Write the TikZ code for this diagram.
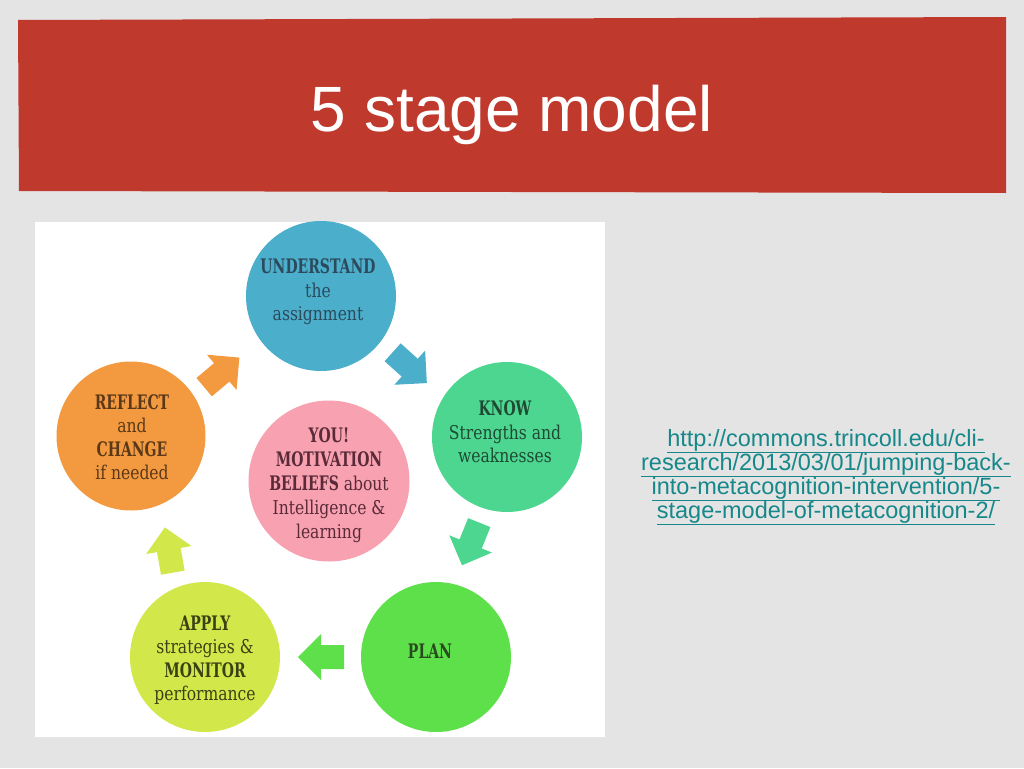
\documentclass[tikz,border=0pt]{standalone}
\usepackage{fontspec}
\setmainfont{Liberation Sans}
\newfontfamily\slab[FakeStretch=0.82]{DejaVu Serif}
\newfontfamily\slabh[FakeStretch=0.7]{DejaVu Serif}
\definecolor{bgc}{HTML}{E4E4E4}
\definecolor{bannerc}{HTML}{C0392D}
\definecolor{bluec}{HTML}{4BAECB}
\definecolor{knowc}{HTML}{4DD690}
\definecolor{planc}{HTML}{5EE04A}
\definecolor{applyc}{HTML}{D2E84A}
\definecolor{reflc}{HTML}{F39A40}
\definecolor{youc}{HTML}{F7A1B1}
\definecolor{urlc}{HTML}{17888A}
\definecolor{tblue}{HTML}{2C4A5C}
\definecolor{tknow}{HTML}{1E4A34}
\definecolor{tplan}{HTML}{294A1E}
\definecolor{tapply}{HTML}{3A4215}
\definecolor{trefl}{HTML}{5A3818}
\definecolor{tyou}{HTML}{5A2A38}
\newcommand\blockarrow[3]{%
  \fill[#3, shift={#1}, rotate=#2] (-22,-12) -- (1,-12) -- (1,-23) -- (24,0) -- (1,23) -- (1,12) -- (-22,12) -- cycle;}
\tikzset{
  stage/.style={circle, inner sep=0pt, minimum size=150pt},
  stagetext/.style={align=center, inner sep=0pt, font=\slab\fontsize{19}{23.5}\selectfont},
  urlline/.style={text=urlc, font=\fontsize{23.5}{24}\selectfont, inner sep=0pt, anchor=base},
}
\newcommand\hd[1]{{\slabh\bfseries\fontsize{20}{23.5}\selectfont #1}}
\begin{document}
\begin{tikzpicture}[x=1pt,y=-1pt]
\useasboundingbox (0,0) rectangle (1024,768);
\fill[bgc] (0,0) rectangle (1024,768);
% banner
\fill[bannerc] (18,20) -- (1006,17) -- (1006,193) -- (19,191) -- cycle;
\node[text=white, font=\fontsize{64}{70}\selectfont, anchor=base] (title) at (512,131) {5 stage model};
% image panel
\fill[white] (35,222) rectangle (605,737);
% circles
\node[stage, fill=bluec] (understand) at (321,296) {};
\node[stage, fill=knowc] (know) at (507,437) {};
\node[stage, fill=planc] (plan) at (436,657) {};
\node[stage, fill=applyc] (apply) at (205,657) {};
\node[stage, fill=reflc, minimum size=149pt] (reflect) at (131,436) {};
\node[stage, fill=youc, minimum size=161pt] (you) at (329,481) {};
% texts
\node[stagetext, text=tblue] (understand-t) at (318,292) {\hd{UNDERSTAND}\\the\\assignment};
\node[stagetext, text=tknow] (know-t) at (505,432) {\hd{KNOW}\\Strengths and\\weaknesses};
\node[stagetext, text=tplan] (plan-t) at (430,651) {\hd{PLAN}};
\node[stagetext, text=tapply] (apply-t) at (205,660) {\hd{APPLY}\\strategies \&\\\hd{MONITOR}\\performance};
\node[stagetext, text=trefl] (reflect-t) at (132,437) {\hd{REFLECT}\\and\\\hd{CHANGE}\\if needed};
\node[stagetext, text=tyou, font=\slab\fontsize{19}{24}\selectfont] (you-t) at (329,485) {\hd{YOU!}\\\hd{MOTIVATION}\\\hd{BELIEFS} about\\Intelligence \&\\learning};
% block arrows
\blockarrow{(221,373)}{40}{reflc}
\blockarrow{(409,367)}{-42}{bluec}
\blockarrow{(471,543)}{-112}{knowc}
\blockarrow{(322,657)}{180}{planc}
\blockarrow{(169,551)}{100}{applyc}
% url
\node[urlline] (url1) at (826,446) {\underline{http://commons.trincoll.edu/cli-}};
\node[urlline] (url2) at (826,470) {\underline{research/2013/03/01/jumping-back-}};
\node[urlline] (url3) at (826,494) {\underline{into-metacognition-intervention/5-}};
\node[urlline] (url4) at (826,518) {\underline{stage-model-of-metacognition-2/}};
\end{tikzpicture}
\end{document}
